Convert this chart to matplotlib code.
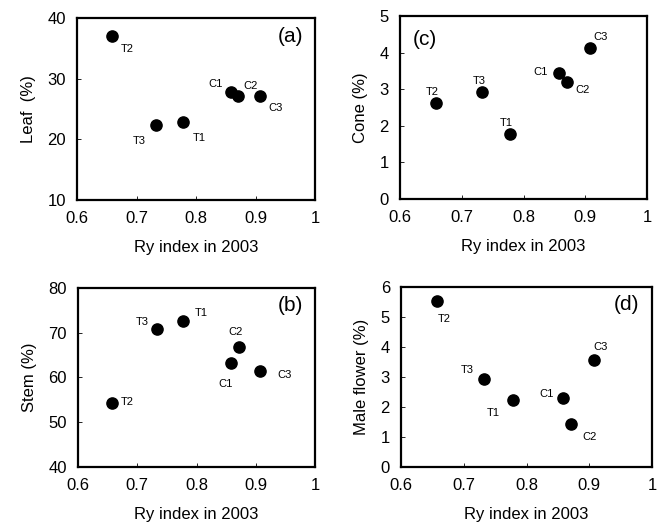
import numpy as np
import matplotlib
matplotlib.use("Agg")
import matplotlib.pyplot as plt

plt.rcParams['font.family'] = ['Liberation Sans', 'DejaVu Sans']

# sample names and Ry index (same for every panel)
names = ["T1", "T2", "T3", "C1", "C2", "C3"]
ry_index = [0.778, 0.658, 0.733, 0.858, 0.871, 0.908]

leaf = [22.8, 37.0, 22.3, 27.8, 27.2, 27.2]
cone = [1.77, 2.63, 2.92, 3.43, 3.20, 4.13]
stem = [72.6, 54.2, 70.9, 63.2, 66.8, 61.5]
male_flower = [2.25, 5.53, 2.95, 2.30, 1.42, 3.58]

x_ticks = [0.6, 0.7, 0.8, 0.9, 1.0]
x_ticklabels = ["0.6", "0.7", "0.8", "0.9", "1"]

# label offsets (points) for each name, per panel
offs_a = {"T1": (7, -11), "T2": (7, -9), "T3": (-17, -11), "C1": (-16, 6), "C2": (4, 7), "C3": (6, -9)}
offs_c = {"T1": (-7, 8), "T2": (-7, 8), "T3": (-7, 8), "C1": (-19, 1), "C2": (6, -6), "C3": (2, 8)}
offs_b = {"T1": (8, 6), "T2": (6, 1), "T3": (-15, 5), "C1": (-9, -15), "C2": (-7, 11), "C3": (12, -3)}
offs_d = {"T1": (-19, -10), "T2": (0, -13), "T3": (-17, 6), "C1": (-17, 3), "C2": (8, -9), "C3": (-1, 9)}

fig = plt.figure(figsize=(6.64, 5.30), dpi=100)
W, H = 664, 530

def make_ax(l, t, r, b):
    return fig.add_axes([l / W, 1 - b / H, (r - l) / W, (b - t) / H])

panels = [
    (make_ax(77, 18, 315, 200), leaf, (10, 40), [10, 20, 30, 40], "Leaf  (%)", "(a)", "right", offs_a),
    (make_ax(400, 16, 647, 199), cone, (0, 5), [0, 1, 2, 3, 4, 5], "Cone (%)", "(c)", "left", offs_c),
    (make_ax(78, 288, 315, 467), stem, (40, 80), [40, 50, 60, 70, 80], "Stem (%)", "(b)", "right", offs_b),
    (make_ax(401, 287, 652, 467), male_flower, (0, 6), [0, 1, 2, 3, 4, 5, 6], "Male flower (%)", "(d)", "right", offs_d),
]

for ax, vals, ylim, yticks, ylabel, letter, loc, offs in panels:
    ax.scatter(ry_index, vals, s=65, color="black", zorder=3)
    for n, x, y in zip(names, ry_index, vals):
        ax.annotate(n, (x, y), xytext=offs[n], textcoords="offset points",
                    fontsize=8, va="center", ha="left")
    ax.set_xlim(0.6, 1.0)
    ax.set_ylim(*ylim)
    ax.set_xticks(x_ticks)
    ax.set_xticklabels(x_ticklabels)
    ax.set_yticks(yticks)
    ax.tick_params(direction="in", length=3, width=0.6, labelsize=12, pad=8)
    ax.set_xlabel("Ry index in 2003", fontsize=12, labelpad=10)
    ax.set_ylabel(ylabel, fontsize=12, labelpad=8)
    for sp in ax.spines.values():
        sp.set_linewidth(1.6)
    if loc == "right":
        ax.text(0.95, 0.9, letter, transform=ax.transAxes, fontsize=15, ha="right", va="center")
    else:
        ax.text(0.05, 0.87, letter, transform=ax.transAxes, fontsize=15, ha="left", va="center")

fig.savefig("out.png", dpi=100)
